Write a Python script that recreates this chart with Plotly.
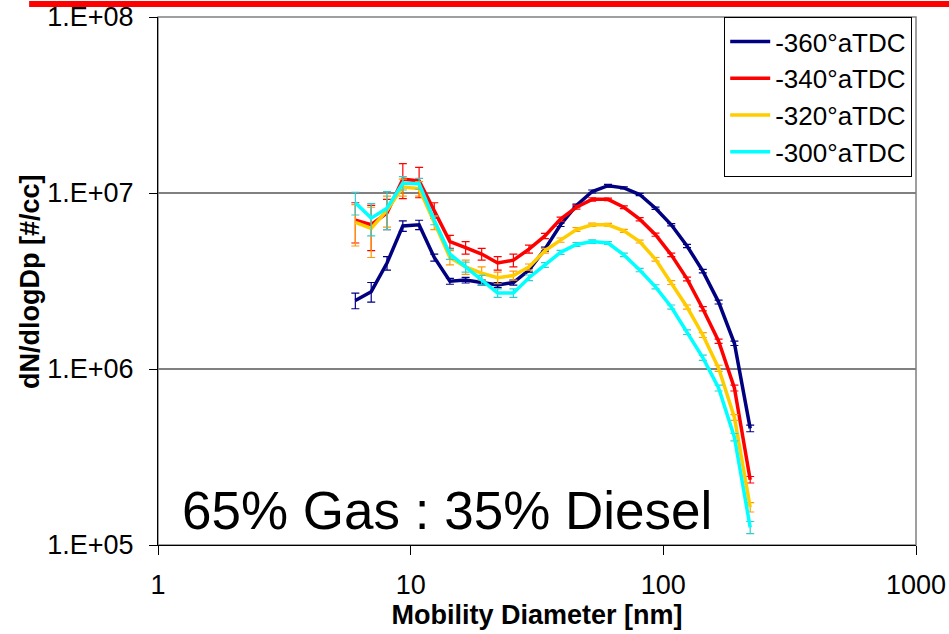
import plotly.graph_objects as go

diameter_nm = [6.04, 6.98, 8.06, 9.31, 10.8, 12.4, 14.3, 16.5, 19.1, 22.1, 25.5, 29.4, 34.0,
               39.2, 45.3, 52.3, 60.4, 69.8, 80.6, 93.1, 107.5, 124.1, 143.3, 165.5, 191.1, 220.7]

series_names = ["-360°aTDC", "-340°aTDC", "-320°aTDC", "-300°aTDC"]

val_360 = [2.45e6, 2.75e6, 4.0e6, 6.5e6, 6.6e6, 4.3e6, 3.15e6, 3.2e6, 3.1e6, 3.0e6, 3.1e6, 3.65e6, 4.8e6,
           6.6e6, 8.5e6, 1.02e7, 1.1e7, 1.07e7, 9.8e6, 8.2e6, 6.6e6, 5.0e6, 3.6e6, 2.4e6, 1.4e6, 4.6e5]
err_360 = [0.25e6, 0.35e6, 0.35e6, 0.45e6, 0.4e6, 0.2e6, 0.12e6, 0.12e6, 0.1e6, 0.1e6, 0.1e6, 0.1e6, 0.12e6,
           0.15e6, 0.15e6, 0.2e6, 0.2e6, 0.15e6, 0.15e6, 0.12e6, 0.1e6, 0.1e6, 0.08e6, 0.06e6, 0.04e6, 0.02e6]

val_340 = [7.0e6, 6.6e6, 7.7e6, 1.2e7, 1.17e7, 8.0e6, 5.3e6, 4.9e6, 4.5e6, 4.0e6, 4.15e6, 4.8e6, 5.7e6,
           7.1e6, 8.3e6, 9.2e6, 9.2e6, 8.3e6, 7.1e6, 5.8e6, 4.45e6, 3.25e6, 2.2e6, 1.44e6, 7.8e5, 2.35e5]
err_340 = [1.8e6, 1.9e6, 1.5e6, 2.7e6, 2.3e6, 0.8e6, 0.45e6, 0.4e6, 0.35e6, 0.35e6, 0.35e6, 0.25e6, 0.2e6,
           0.2e6, 0.2e6, 0.2e6, 0.15e6, 0.15e6, 0.15e6, 0.12e6, 0.1e6, 0.08e6, 0.06e6, 0.04e6, 0.03e6, 0.01e6]

val_320 = [6.8e6, 6.3e6, 8.0e6, 1.08e7, 1.06e7, 6.8e6, 4.3e6, 3.8e6, 3.5e6, 3.3e6, 3.4e6, 3.8e6, 4.7e6,
           5.4e6, 6.2e6, 6.6e6, 6.6e6, 6.1e6, 5.3e6, 4.2e6, 3.1e6, 2.25e6, 1.56e6, 1.01e6, 5.3e5, 1.64e5]
err_320 = [1.8e6, 2.0e6, 1.6e6, 1.2e6, 1.0e6, 0.6e6, 0.4e6, 0.35e6, 0.3e6, 0.25e6, 0.2e6, 0.15e6, 0.15e6,
           0.15e6, 0.15e6, 0.15e6, 0.12e6, 0.12e6, 0.1e6, 0.1e6, 0.08e6, 0.06e6, 0.05e6, 0.04e6, 0.02e6, 0.01e6]

val_300 = [8.8e6, 7.2e6, 8.2e6, 1.14e7, 1.13e7, 7.0e6, 4.5e6, 3.8e6, 3.2e6, 2.7e6, 2.7e6, 3.3e6, 3.9e6,
           4.6e6, 5.1e6, 5.3e6, 5.2e6, 4.45e6, 3.65e6, 2.93e6, 2.25e6, 1.62e6, 1.16e6, 7.8e5, 4.1e5, 1.26e5]
err_300 = [1.3e6, 1.5e6, 2.0e6, 1.0e6, 0.8e6, 0.4e6, 0.3e6, 0.25e6, 0.2e6, 0.15e6, 0.15e6, 0.12e6, 0.12e6,
           0.12e6, 0.12e6, 0.12e6, 0.1e6, 0.1e6, 0.08e6, 0.08e6, 0.06e6, 0.05e6, 0.04e6, 0.03e6, 0.02e6, 0.01e6]

x_tickvals = [1, 10, 100, 1000]
x_ticktext = ["1", "10", "100", "1000"]
y_tickvals = [1e5, 1e6, 1e7, 1e8]
y_ticktext = ["1.E+05", "1.E+06", "1.E+07", "1.E+08"]

line_colors = ["#000080", "#FF0000", "#FFCC00", "#00FFFF"]
err_colors = ["#000080", "#FF0000", "#FF9900", "#33CCCC"]

fig = go.Figure()
for i, (name, vals, errs) in enumerate(zip(series_names,
                                            [val_360, val_340, val_320, val_300],
                                            [err_360, err_340, err_320, err_300])):
    fig.add_trace(go.Scatter(
        x=diameter_nm, y=vals, name=name, mode="lines",
        legendgroup=f"g{i}",
        line=dict(color=line_colors[i], width=3.5),
        error_y=dict(type="data", array=errs, visible=True,
                     color=err_colors[i], thickness=1.2, width=4),
    ))

FONT = "Liberation Sans, Arial, sans-serif"

fig.update_layout(
    width=949, height=634,
    margin=dict(l=158, r=33, t=17, b=89, autoexpand=False),
    paper_bgcolor="white", plot_bgcolor="white",
    font=dict(family=FONT, color="black"),
    showlegend=True,
    legend=dict(
        x=0.995, xanchor="right", y=1.0, yanchor="top",
        bgcolor="white", bordercolor="black", borderwidth=1,
        font=dict(size=26, family=FONT),
        tracegroupgap=0, itemwidth=40,
    ),
    xaxis=dict(
        type="log", range=[0, 3], automargin=False,
        tickvals=x_tickvals, ticktext=x_ticktext,
        ticks="outside", ticklen=9, tickcolor="black",
        showline=True, linecolor="black", linewidth=1,
        showgrid=False, zeroline=False,
        tickfont=dict(size=27),
        ticklabelstandoff=7,
        title=dict(text="<b>Mobility Diameter [nm]</b>", font=dict(size=27), standoff=0),
    ),
    yaxis=dict(
        type="log", range=[5, 8], automargin=False,
        tickvals=y_tickvals, ticktext=y_ticktext,
        ticks="outside", ticklen=8, tickcolor="black",
        showline=True, linecolor="black", linewidth=1,
        showgrid=True, gridcolor="#808080", gridwidth=1.5,
        zeroline=False,
        tickfont=dict(size=27),
        ticklabelstandoff=10,
    ),
    shapes=[
        dict(type="rect", xref="paper", yref="paper", x0=0, x1=1, y0=0, y1=1,
             line=dict(color="#808080", width=1.5), layer="below"),
        dict(type="line", xref="paper", yref="paper", x0=-0.170, x1=1.05, y0=1.0246, y1=1.0246,
             line=dict(color="#FF0000", width=6)),
    ],
    annotations=[
        dict(text="65% Gas : 35% Diesel", xref="paper", yref="paper",
             x=0.029, y=0.005, xanchor="left", yanchor="bottom", showarrow=False,
             font=dict(size=53, family=FONT, color="black")),
        dict(text="<b>dN/dlogDp [#/cc]</b>", xref="paper", yref="paper",
             x=-0.169, y=0.5, xanchor="center", yanchor="middle", textangle=-90,
             showarrow=False, font=dict(size=27, family=FONT, color="black")),
    ],
)

fig.write_html("out.html",
               config={"displayModeBar": False},
               post_script="document.body.style.margin='0';document.body.style.overflow='hidden';")
